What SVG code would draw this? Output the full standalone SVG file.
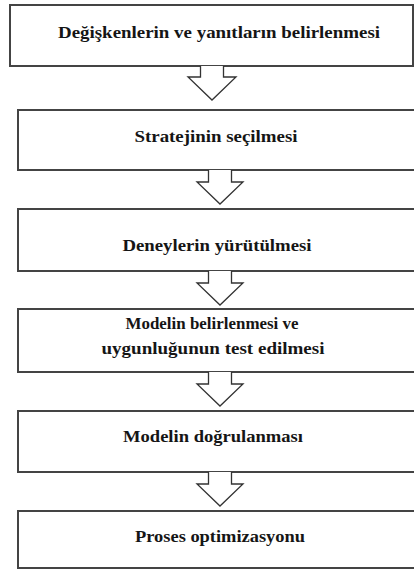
<svg xmlns="http://www.w3.org/2000/svg" width="414" height="572" viewBox="0 0 414 572">
<style>
.box{fill:#fff;stroke:#444;stroke-width:2}
.arr{fill:#fff;stroke:#333;stroke-width:1.3;stroke-linejoin:miter}
.t{font-family:'Liberation Serif',serif;font-size:16px;font-weight:bold;fill:#151515;text-anchor:middle}
</style>
<rect width="414" height="572" fill="#fff"/>
<g id="n1"><rect class="box" x="10" y="5" width="403" height="61"/><text class="t" x="219" y="38" textLength="322" lengthAdjust="spacingAndGlyphs">Değişkenlerin ve yanıtların belirlenmesi</text></g>
<g id="n2"><rect class="box" x="18" y="110" width="410" height="60"/><text class="t" x="216" y="142" textLength="163" lengthAdjust="spacingAndGlyphs">Stratejinin seçilmesi</text></g>
<g id="n3"><rect class="box" x="18" y="209" width="410" height="62"/><text class="t" x="217" y="251" textLength="189" lengthAdjust="spacingAndGlyphs">Deneylerin yürütülmesi</text></g>
<g id="n4"><rect class="box" x="18" y="309" width="410" height="63"/><text class="t" x="212" y="329" textLength="173" lengthAdjust="spacingAndGlyphs">Modelin belirlenmesi ve</text><text class="t" x="213" y="354" textLength="223" lengthAdjust="spacingAndGlyphs">uygunluğunun test edilmesi</text></g>
<g id="n5"><rect class="box" x="18" y="411" width="410" height="61"/><text class="t" x="213" y="442" textLength="180" lengthAdjust="spacingAndGlyphs">Modelin doğrulanması</text></g>
<g id="n6"><rect class="box" x="18" y="511" width="410" height="57"/><text class="t" x="220" y="542" textLength="170" lengthAdjust="spacingAndGlyphs">Proses optimizasyonu</text></g>
<g id="connectors">
<path class="arr" d="M200.5,66 V77 H188 L212,100 L236,77 H223.5 V66"/>
<path class="arr" d="M208.5,170 V182 H197 L220,204 L243,182 H231.5 V170"/>
<path class="arr" d="M208.5,271 V283 H197 L220,305 L243,283 H231.5 V271"/>
<path class="arr" d="M208.5,372 V384 H197 L220,406 L243,384 H231.5 V372"/>
<path class="arr" d="M208.5,472 V484 H197 L220,506 L243,484 H231.5 V472"/>
</g>
</svg>
